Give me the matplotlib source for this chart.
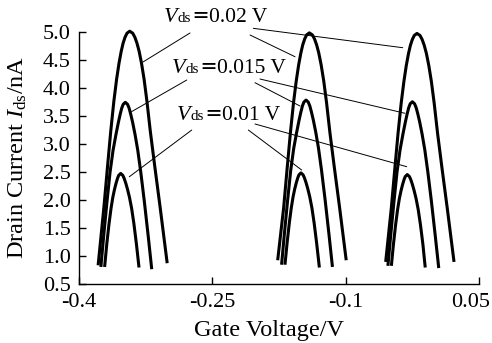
import matplotlib
matplotlib.use('Agg')
import matplotlib.pyplot as plt
from matplotlib.offsetbox import TextArea, HPacker, AnnotationBbox
from matplotlib.transforms import ScaledTranslation

plt.rcParams['font.family'] = ['Liberation Serif', 'Noto Sans CJK SC', 'DejaVu Sans']
plt.rcParams['mathtext.fontset'] = 'custom'
plt.rcParams['mathtext.rm'] = 'Liberation Serif'
plt.rcParams['mathtext.it'] = 'Liberation Serif:italic'

# ---- data (gate voltage / V, drain current / nA) ----
# group 1
x1b = [-0.3785, -0.3719, -0.3679, -0.3643, -0.3608, -0.3577, -0.3550, -0.3525, -0.3504, -0.3482, -0.3460, -0.3430,
       -0.3396, -0.3372, -0.3348, -0.3324, -0.3297, -0.3268, -0.3236, -0.3198, -0.3148, -0.3089, -0.3008]
y1b = [0.84, 1.895, 2.609, 3.234, 3.770, 4.163, 4.449, 4.663, 4.806, 4.913, 4.984, 5.02,
       4.984, 4.913, 4.806, 4.663, 4.449, 4.163, 3.770, 3.234, 2.609, 1.895, 0.877]
x1m = [-0.3754, -0.3724, -0.3686, -0.3651, -0.3617, -0.3584, -0.3557, -0.3537, -0.3520, -0.3503, -0.3479,
       -0.3454, -0.3436, -0.3418, -0.3397, -0.3370, -0.3339, -0.3305, -0.3264, -0.3220, -0.3182]
y1m = [0.81, 1.339, 1.964, 2.50, 2.893, 3.179, 3.393, 3.536, 3.643, 3.714, 3.75,
       3.714, 3.643, 3.536, 3.393, 3.179, 2.893, 2.50, 1.964, 1.339, 0.77]
x1s = [-0.3712, -0.3687, -0.3662, -0.3640, -0.3620, -0.3601, -0.3584, -0.3567, -0.3554, -0.3531,
       -0.3507, -0.3492, -0.3473, -0.3454, -0.3432, -0.3408, -0.3383, -0.3355, -0.3325]
y1s = [0.81, 1.23, 1.587, 1.855, 2.051, 2.194, 2.301, 2.391, 2.444, 2.48,
       2.444, 2.391, 2.301, 2.194, 2.051, 1.855, 1.587, 1.23, 0.80]
# group 2
x2b = [-0.1765, -0.1698, -0.1658, -0.1622, -0.1587, -0.1556, -0.1529, -0.1504, -0.1483, -0.1461, -0.1439, -0.1409,
       -0.1375, -0.1351, -0.1327, -0.1303, -0.1276, -0.1247, -0.1215, -0.1177, -0.1127, -0.1068, -0.0994]
y2b = [0.93, 1.865, 2.579, 3.204, 3.740, 4.133, 4.419, 4.633, 4.776, 4.883, 4.954, 4.99,
       4.954, 4.883, 4.776, 4.633, 4.419, 4.133, 3.740, 3.204, 2.579, 1.865, 0.93]
x2m = [-0.1721, -0.1691, -0.1653, -0.1618, -0.1584, -0.1551, -0.1524, -0.1504, -0.1487, -0.1470, -0.1446,
       -0.1421, -0.1403, -0.1385, -0.1364, -0.1337, -0.1306, -0.1272, -0.1231, -0.1187, -0.1149]
y2m = [0.85, 1.379, 2.004, 2.54, 2.933, 3.219, 3.433, 3.576, 3.683, 3.754, 3.79,
       3.754, 3.683, 3.576, 3.433, 3.219, 2.933, 2.54, 2.004, 1.379, 0.81]
x2s = [-0.1683, -0.1659, -0.1634, -0.1612, -0.1592, -0.1573, -0.1556, -0.1539, -0.1526, -0.1503,
       -0.1479, -0.1464, -0.1445, -0.1426, -0.1404, -0.1380, -0.1355, -0.1327, -0.1296]
y2s = [0.85, 1.24, 1.597, 1.865, 2.061, 2.204, 2.311, 2.401, 2.454, 2.49,
       2.454, 2.401, 2.311, 2.204, 2.061, 1.865, 1.597, 1.24, 0.80]
# group 3
x3b = [-0.0550, -0.0487, -0.0447, -0.0411, -0.0376, -0.0345, -0.0318, -0.0293, -0.0272, -0.0250, -0.0228, -0.0198,
       -0.0164, -0.0140, -0.0116, -0.0092, -0.0065, -0.0036, -0.0004, 0.0034, 0.0084, 0.0143, 0.0219]
y3b = [0.90, 1.855, 2.569, 3.194, 3.730, 4.123, 4.409, 4.623, 4.766, 4.873, 4.944, 4.98,
       4.944, 4.873, 4.766, 4.623, 4.409, 4.123, 3.730, 3.194, 2.569, 1.855, 0.90]
x3m = [-0.0525, -0.0495, -0.0457, -0.0422, -0.0388, -0.0355, -0.0328, -0.0308, -0.0291, -0.0274, -0.0250,
       -0.0225, -0.0207, -0.0189, -0.0168, -0.0141, -0.0110, -0.0076, -0.0035, 0.0009, 0.0047]
y3m = [0.83, 1.349, 1.974, 2.51, 2.903, 3.189, 3.403, 3.546, 3.653, 3.724, 3.76,
       3.724, 3.653, 3.546, 3.403, 3.189, 2.903, 2.51, 1.974, 1.349, 0.79]
x3s = [-0.0486, -0.0463, -0.0438, -0.0416, -0.0396, -0.0377, -0.0360, -0.0343, -0.0330, -0.0307,
       -0.0283, -0.0268, -0.0249, -0.0230, -0.0208, -0.0184, -0.0159, -0.0131, -0.0105]
y3s = [0.83, 1.21, 1.567, 1.835, 2.031, 2.174, 2.281, 2.371, 2.424, 2.46,
       2.424, 2.371, 2.281, 2.174, 2.031, 1.835, 1.567, 1.21, 0.80]

curves = [(x1b, y1b), (x1m, y1m), (x1s, y1s),
          (x2b, y2b), (x2m, y2m), (x2s, y2s),
          (x3b, y3b), (x3m, y3m), (x3s, y3s)]

xticks = [-0.4, -0.25, -0.1, 0.05]
xticklabels = ['-0.4', '-0.25', '-0.1', '0.05']
yticks = [0.5, 1.0, 1.5, 2.0, 2.5, 3.0, 3.5, 4.0, 4.5, 5.0]
yticklabels = ['0.5', '1.0', '1.5', '2.0', '2.5', '3.0', '3.5', '4.0', '4.5', '5.0']

vds_labels = ['0.02 V', '0.015 V', '0.01 V']

# ---- figure ----
fig = plt.figure(figsize=(4.92, 3.43), dpi=100)
ax = fig.add_axes([0.1606, 0.1711, 0.813, 0.7347])

for xs, ys in curves:
    ax.plot(xs, ys, color='black', lw=2.2, solid_joinstyle='round',
            solid_capstyle='butt', clip_on=False)

ax.set_xlim(-0.4, 0.05)
ax.set_ylim(0.5, 5.0)
ax.set_xticks(xticks)
ax.set_xticklabels(xticklabels)
ax.set_yticks(yticks)
ax.set_yticklabels(yticklabels)
ax.tick_params(direction='in', length=5, width=1.0, labelsize=16, pad=6, color='black')
for s in ['top', 'right']:
    ax.spines[s].set_visible(False)
for s in ['left', 'bottom']:
    ax.spines[s].set_linewidth(1.0)

# last x tick label sits a little left of its tick, as in the reference
last = ax.get_xticklabels()[-1]
last.set_transform(last.get_transform() + ScaledTranslation(-0.08, 0, fig.dpi_scale_trans))

ax.set_xlabel('Gate Voltage/V', fontsize=17.5)
ax.xaxis.set_label_coords(0.475, -0.143)
ax.set_ylabel(r'Drain Current $I_{\mathrm{ds}}$/nA', fontsize=17.5)
ax.yaxis.set_label_coords(-0.125, 0.505)

# labels
label_pos = [(-0.3044, 5.27), (-0.2954, 4.36), (-0.2898, 3.52)]
for (lx, ly), val in zip(label_pos, vds_labels):
    parts = [TextArea('V', textprops=dict(fontsize=16, fontstyle='italic', family='Liberation Serif')),
             TextArea('ds', textprops=dict(fontsize=11, family='Liberation Serif')),
             TextArea('＝', textprops=dict(fontsize=13, fontweight='bold', family=['Noto Sans CJK SC'])),
             TextArea(val, textprops=dict(fontsize=15.5, family='Liberation Serif'))]
    box = HPacker(children=parts, align='baseline', pad=0, sep=0)
    ab = AnnotationBbox(box, (lx, ly), xycoords='data', box_alignment=(0, 0.5),
                        frameon=False, pad=0, annotation_clip=False)
    ax.add_artist(ab)

# leader lines (text anchor -> curve)
leaders = [((-0.2751, 4.988), (-0.3280, 4.470)),
           ((-0.2076, 4.952), (-0.1570, 4.564)),
           ((-0.2039, 5.071), (-0.0358, 4.725)),
           ((-0.2788, 4.148), (-0.3410, 3.582)),
           ((-0.2020, 4.100), (-0.1514, 3.684)),
           ((-0.1964, 4.166), (-0.0333, 3.554)),
           ((-0.2732, 3.255), (-0.3434, 2.421)),
           ((-0.2095, 3.255), (-0.1495, 2.541)),
           ((-0.2020, 3.363), (-0.0313, 2.600))]
for start, end in leaders:
    ax.annotate('', xy=end, xytext=start, xycoords='data', textcoords='data',
                arrowprops=dict(arrowstyle='-', lw=0.7, color='black',
                                shrinkA=0, shrinkB=0), annotation_clip=False)

fig.savefig('out.png', dpi=100)
